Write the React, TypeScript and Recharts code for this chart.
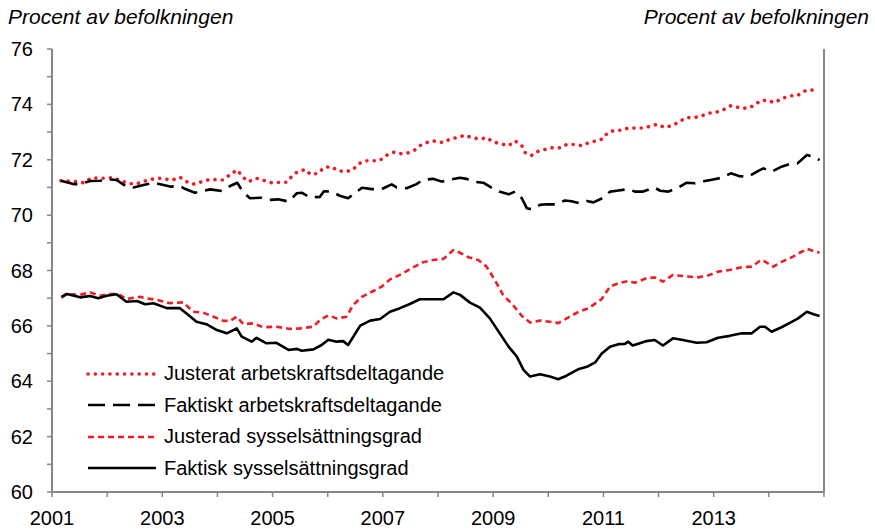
import { LineChart, Line, XAxis, YAxis } from 'recharts';

// [år, procent]
const justeratAkd: [number, number][] = [
  [2001.16, 71.24], [2001.4, 71.22], [2001.57, 71.17], [2001.72, 71.35], [2001.9, 71.33],
  [2002.1, 71.35], [2002.35, 71.17], [2002.5, 71.11], [2002.78, 71.29], [2002.95, 71.33],
  [2003.19, 71.27], [2003.32, 71.37], [2003.45, 71.2], [2003.56, 71.12], [2003.87, 71.29],
  [2004.1, 71.27], [2004.26, 71.51], [2004.36, 71.63], [2004.45, 71.4], [2004.56, 71.21],
  [2004.71, 71.33], [2004.98, 71.17], [2005.26, 71.19], [2005.35, 71.4], [2005.44, 71.55],
  [2005.59, 71.65], [2005.69, 71.47], [2005.83, 71.51], [2005.93, 71.72], [2006.06, 71.75],
  [2006.19, 71.61], [2006.31, 71.56], [2006.45, 71.63], [2006.56, 71.85], [2006.68, 71.96],
  [2006.94, 71.97], [2007.06, 72.15], [2007.19, 72.27], [2007.31, 72.22], [2007.43, 72.23],
  [2007.57, 72.34], [2007.69, 72.53], [2007.81, 72.63], [2007.95, 72.68], [2008.09, 72.62],
  [2008.22, 72.75], [2008.35, 72.8], [2008.48, 72.88], [2008.62, 72.8], [2008.76, 72.74],
  [2008.88, 72.8], [2009.0, 72.65], [2009.14, 72.57], [2009.28, 72.51], [2009.4, 72.68],
  [2009.52, 72.51], [2009.58, 72.26], [2009.69, 72.15], [2009.82, 72.31], [2009.96, 72.38],
  [2010.09, 72.44], [2010.21, 72.43], [2010.33, 72.55], [2010.47, 72.55], [2010.61, 72.51],
  [2010.74, 72.62], [2010.87, 72.68], [2010.98, 72.75], [2011.08, 72.98], [2011.2, 73.06],
  [2011.34, 73.07], [2011.47, 73.16], [2011.6, 73.14], [2011.74, 73.15], [2011.86, 73.22],
  [2011.98, 73.28], [2012.1, 73.17], [2012.25, 73.23], [2012.37, 73.37], [2012.5, 73.52],
  [2012.64, 73.52], [2012.78, 73.58], [2012.91, 73.68], [2013.05, 73.72], [2013.19, 73.82],
  [2013.31, 73.95], [2013.46, 73.88], [2013.6, 73.86], [2013.73, 73.95], [2013.84, 74.13],
  [2013.97, 74.15], [2014.1, 74.06], [2014.23, 74.2], [2014.37, 74.31], [2014.51, 74.31],
  [2014.63, 74.47], [2014.75, 74.53], [2014.9, 74.46],
];

const faktisktAkd: [number, number][] = [
  [2001.16, 71.24], [2001.39, 71.12], [2001.51, 71.12], [2001.69, 71.23], [2001.87, 71.24],
  [2002.02, 71.29], [2002.17, 71.27], [2002.35, 71.03], [2002.48, 71.0], [2002.66, 71.09],
  [2002.84, 71.17], [2003.14, 71.03], [2003.32, 71.05], [2003.41, 70.95], [2003.59, 70.81],
  [2003.87, 70.93], [2004.08, 70.87], [2004.23, 71.05], [2004.36, 71.17], [2004.47, 70.82],
  [2004.59, 70.61], [2004.8, 70.63], [2004.95, 70.55], [2005.1, 70.57], [2005.29, 70.49],
  [2005.44, 70.79], [2005.53, 70.81], [2005.68, 70.64], [2005.86, 70.66], [2005.93, 70.86],
  [2006.07, 70.85], [2006.22, 70.7], [2006.37, 70.61], [2006.53, 70.85], [2006.62, 70.99],
  [2006.8, 70.94], [2006.98, 70.94], [2007.16, 71.11], [2007.25, 71.0], [2007.43, 70.97],
  [2007.61, 71.12], [2007.72, 71.27], [2007.91, 71.31], [2008.07, 71.21], [2008.19, 71.27],
  [2008.4, 71.35], [2008.52, 71.31], [2008.64, 71.21], [2008.82, 71.17], [2008.97, 70.99],
  [2009.11, 70.85], [2009.28, 70.75], [2009.4, 70.85], [2009.52, 70.61], [2009.61, 70.25],
  [2009.7, 70.21], [2009.85, 70.37], [2009.97, 70.39], [2010.15, 70.39], [2010.3, 70.53],
  [2010.42, 70.5], [2010.57, 70.43], [2010.7, 70.51], [2010.82, 70.46], [2011.0, 70.63],
  [2011.12, 70.85], [2011.24, 70.88], [2011.45, 70.94], [2011.57, 70.85], [2011.72, 70.85],
  [2011.92, 71.0], [2012.03, 70.88], [2012.18, 70.85], [2012.36, 71.0], [2012.51, 71.17],
  [2012.66, 71.15], [2012.84, 71.23], [2012.99, 71.29], [2013.15, 71.35], [2013.31, 71.51],
  [2013.46, 71.41], [2013.63, 71.39], [2013.8, 71.59], [2013.9, 71.69], [2014.05, 71.57],
  [2014.23, 71.75], [2014.39, 71.85], [2014.52, 71.87], [2014.69, 72.17], [2014.81, 72.11],
  [2014.92, 71.99],
];

const justeradSyss: [number, number][] = [
  [2001.17, 67.02], [2001.27, 67.15], [2001.51, 67.12], [2001.69, 67.21], [2001.87, 67.09],
  [2002.05, 67.15], [2002.2, 67.15], [2002.35, 66.97], [2002.6, 67.05], [2002.69, 67.0],
  [2002.9, 66.94], [2003.14, 66.82], [2003.38, 66.85], [2003.56, 66.51], [2003.74, 66.48],
  [2003.93, 66.33], [2004.11, 66.18], [2004.23, 66.18], [2004.35, 66.33], [2004.47, 66.06],
  [2004.65, 66.09], [2004.83, 65.95], [2005.07, 65.97], [2005.32, 65.89], [2005.5, 65.91],
  [2005.74, 65.97], [2005.86, 66.21], [2006.01, 66.38], [2006.16, 66.27], [2006.34, 66.33],
  [2006.46, 66.75], [2006.62, 67.05], [2006.83, 67.26], [2006.98, 67.42], [2007.13, 67.68],
  [2007.31, 67.84], [2007.52, 68.08], [2007.73, 68.3], [2007.91, 68.38], [2008.1, 68.42],
  [2008.28, 68.74], [2008.4, 68.64], [2008.55, 68.48], [2008.73, 68.38], [2008.88, 68.14],
  [2009.03, 67.66], [2009.18, 67.12], [2009.36, 66.75], [2009.52, 66.36], [2009.67, 66.12],
  [2009.85, 66.19], [2010.03, 66.15], [2010.18, 66.1], [2010.36, 66.3], [2010.54, 66.5],
  [2010.73, 66.64], [2010.97, 66.97], [2011.12, 67.42], [2011.27, 67.54], [2011.45, 67.62],
  [2011.57, 67.56], [2011.78, 67.72], [2011.93, 67.75], [2012.08, 67.6], [2012.26, 67.84],
  [2012.44, 67.8], [2012.69, 67.75], [2012.87, 67.8], [2013.08, 67.96], [2013.29, 68.02],
  [2013.51, 68.12], [2013.69, 68.14], [2013.86, 68.38], [2013.93, 68.32], [2014.08, 68.14],
  [2014.26, 68.34], [2014.44, 68.5], [2014.56, 68.64], [2014.7, 68.78], [2014.81, 68.7],
  [2014.92, 68.64],
];

const faktiskSyss: [number, number][] = [
  [2001.17, 67.05], [2001.27, 67.15], [2001.51, 67.03], [2001.69, 67.08], [2001.84, 67.0],
  [2001.99, 67.09], [2002.17, 67.14], [2002.35, 66.87], [2002.54, 66.9], [2002.69, 66.78],
  [2002.84, 66.82], [2003.08, 66.64], [2003.32, 66.64], [2003.44, 66.45], [2003.62, 66.15],
  [2003.8, 66.06], [2003.99, 65.85], [2004.17, 65.73], [2004.35, 65.91], [2004.44, 65.61],
  [2004.62, 65.43], [2004.71, 65.57], [2004.89, 65.37], [2005.07, 65.39], [2005.29, 65.13],
  [2005.44, 65.17], [2005.53, 65.1], [2005.74, 65.15], [2005.89, 65.31], [2006.01, 65.5],
  [2006.16, 65.43], [2006.28, 65.45], [2006.37, 65.31], [2006.59, 66.01], [2006.77, 66.19],
  [2006.95, 66.25], [2007.13, 66.51], [2007.31, 66.64], [2007.49, 66.79], [2007.67, 66.96],
  [2007.91, 66.96], [2008.1, 66.96], [2008.28, 67.21], [2008.4, 67.12], [2008.58, 66.84],
  [2008.76, 66.66], [2008.94, 66.27], [2009.12, 65.73], [2009.28, 65.25], [2009.43, 64.89],
  [2009.55, 64.41], [2009.67, 64.17], [2009.85, 64.25], [2010.03, 64.17], [2010.18, 64.07],
  [2010.33, 64.2], [2010.54, 64.43], [2010.7, 64.52], [2010.85, 64.68], [2010.97, 65.0],
  [2011.12, 65.25], [2011.27, 65.34], [2011.39, 65.35], [2011.45, 65.43], [2011.53, 65.29],
  [2011.66, 65.37], [2011.78, 65.45], [2011.93, 65.49], [2012.08, 65.29], [2012.26, 65.55],
  [2012.44, 65.49], [2012.69, 65.39], [2012.87, 65.41], [2013.08, 65.57], [2013.29, 65.64],
  [2013.51, 65.73], [2013.69, 65.73], [2013.84, 65.97], [2013.93, 65.97], [2014.05, 65.79],
  [2014.23, 65.95], [2014.39, 66.12], [2014.53, 66.27], [2014.69, 66.51], [2014.81, 66.42],
  [2014.92, 66.36],
];

const yearTicks = [2001, 2002, 2003, 2004, 2005, 2006, 2007, 2008, 2009, 2010, 2011, 2012, 2013, 2014, 2015];
const labelYears = [2001, 2003, 2005, 2007, 2009, 2011, 2013];
const valueTicks = [60, 61, 62, 63, 64, 65, 66, 67, 68, 69, 70, 71, 72, 73, 74, 75, 76];
const unitLabel = 'Procent av befolkningen';

const RED = '#ee1c24';
const AXIS = '#868686';
const FONT = '"Liberation Sans", Arial, sans-serif';

const series = [
  { name: 'Justerat arbetskraftsdeltagande', data: justeratAkd, color: RED, dash: '0.1 7.2', width: 3.6, cap: 'round' },
  { name: 'Faktiskt arbetskraftsdeltagande', data: faktisktAkd, color: '#000', dash: '17 8', width: 2.6, cap: 'butt' },
  { name: 'Justerad sysselsättningsgrad', data: justeradSyss, color: RED, dash: '6 4', width: 2.6, cap: 'butt' },
  { name: 'Faktisk sysselsättningsgrad', data: faktiskSyss, color: '#000', dash: undefined, width: 2.6, cap: 'butt' },
];

const toPoints = (arr: [number, number][]) => arr.map(([x, y]) => ({ x, y }));

function ChartLegend() {
  return (
    <div
      style={{
        position: 'absolute',
        left: 86,
        top: 358,
        fontFamily: FONT,
        fontSize: 20,
        color: '#000',
        zIndex: 2,
      }}
    >
      {series.map((s) => (
        <div key={s.name} style={{ display: 'flex', alignItems: 'center', height: 31.5 }}>
          <svg width={72} height={10} style={{ marginRight: 6 }}>
            <line
              x1={2}
              y1={5}
              x2={70}
              y2={5}
              stroke={s.color}
              strokeWidth={s.width}
              strokeDasharray={s.dash}
              strokeLinecap={s.cap as any}
            />
          </svg>
          <span>{s.name}</span>
        </div>
      ))}
    </div>
  );
}

export default function App() {
  const tickStyle = { fill: '#000', fontSize: 20, fontFamily: FONT };
  const titleStyle = {
    position: 'absolute' as const,
    top: 5,
    fontFamily: FONT,
    fontStyle: 'italic',
    fontSize: 21,
    zIndex: 2,
  };
  return (
    <div style={{ position: 'absolute', left: 0, top: 0, width: 875, height: 529, background: '#fff' }}>
      <div style={{ ...titleStyle, left: 8 }}>{unitLabel}</div>
      <div style={{ ...titleStyle, right: 6 }}>{unitLabel}</div>
      <ChartLegend />
      <LineChart width={875} height={529} margin={{ top: 49, right: 0, bottom: 0, left: 0 }}>
        <XAxis
          type="number"
          dataKey="x"
          domain={[2001, 2015]}
          ticks={yearTicks}
          tickFormatter={(v: number) => (labelYears.includes(v) ? String(v) : '')}
          interval={0}
          height={37}
          tick={tickStyle}
          tickSize={5}
          tickMargin={14}
          axisLine={{ stroke: AXIS, strokeWidth: 2 }}
          tickLine={{ stroke: AXIS, strokeWidth: 1.5 }}
          allowDataOverflow
        />
        <YAxis
          yAxisId="left"
          domain={[60, 76]}
          ticks={valueTicks}
          interval={0}
          tickFormatter={(v: number) => (v % 2 === 0 ? String(v) : '')}
          width={52}
          tick={tickStyle}
          tickSize={5}
          tickMargin={14}
          axisLine={{ stroke: AXIS, strokeWidth: 2 }}
          tickLine={{ stroke: AXIS, strokeWidth: 1.5 }}
        />
        <YAxis
          yAxisId="right"
          orientation="right"
          domain={[60, 76]}
          ticks={valueTicks}
          interval={0}
          tickFormatter={(v: number) => (v % 2 === 0 ? String(v) : '')}
          width={51}
          tick={tickStyle}
          tickSize={5}
          tickMargin={14}
          axisLine={{ stroke: AXIS, strokeWidth: 2 }}
          tickLine={{ stroke: AXIS, strokeWidth: 1.5 }}
        />
        {series.map((s) => (
          <Line
            key={s.name}
            yAxisId="left"
            data={toPoints(s.data)}
            dataKey="y"
            name={s.name}
            type="linear"
            stroke={s.color}
            strokeWidth={s.width}
            strokeDasharray={s.dash}
            strokeLinecap={s.cap as any}
            strokeLinejoin="round"
            dot={false}
            activeDot={false}
            isAnimationActive={false}
          />
        ))}
      </LineChart>
    </div>
  );
}
